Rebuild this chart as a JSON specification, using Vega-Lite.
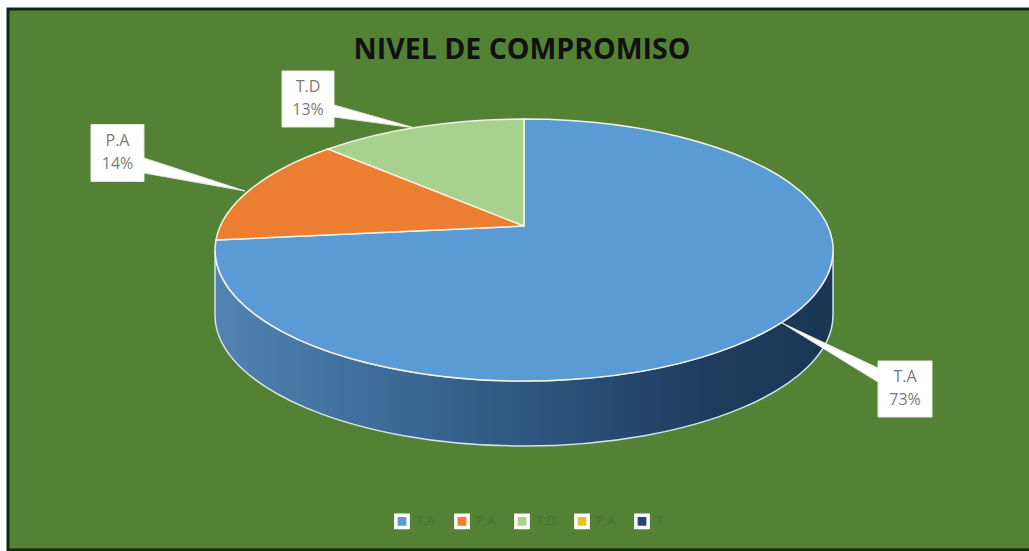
{
"$schema":"https://vega.github.io/schema/vega-lite/v6.json",
"width":1024,"height":541,
"autosize":"none",
"padding":{"left":8,"top":9,"right":0,"bottom":1},
"background":"#ffffff",
"view":{"fill":"#548235","stroke":"#0c2a14","strokeWidth":3},
"title":{"text":"NIVEL DE COMPROMISO","anchor":"middle","frame":"group","offset":-55,"dx":2,"font":"Open Sans","fontSize":28.5,"fontWeight":"bold","color":"#111111"},
"data":{"values":[
{"categoria":"T.A","porcentaje":73,"etiqueta":"73%"},
{"categoria":"P.A","porcentaje":14,"etiqueta":"14%"},
{"categoria":"T.D","porcentaje":13,"etiqueta":"13%"}
]},
"resolve":{"scale":{"shape":"independent"}},
"layer":[
{"data":{"values":[{"elemento":"lateral"}]},
 "mark":{"type":"point","filled":true,"opacity":1,"size":40000,"strokeWidth":1.5,"stroke":"#cfe3ee",
  "fill":{"gradient":"linear","x1":0,"y1":0,"x2":1,"y2":0,"stops":[{"offset":0,"color":"#5283b3"},{"offset":0.45,"color":"#315b87"},{"offset":0.8,"color":"#1f3c5e"},{"offset":1,"color":"#1c3553"}]}},
 "encoding":{"shape":{"value":"M-3.05,-0.295 A3.09,1.31 0 0 0 3.13,-0.295 L3.13,0.355 A3.09,1.31 0 0 1 -3.05,0.355 Z"}}},
{"mark":{"type":"point","filled":true,"opacity":1,"size":40000,"stroke":"#f3f1e4","strokeWidth":1.5},
 "encoding":{
  "color":{"field":"categoria","type":"nominal","scale":{"domain":["T.A","P.A","T.D","P.A ","T"],"range":["#5b9bd5","#ed7d31","#a9d18e","#e8c21e","#264478"]},
   "legend":{"title":null,"orient":"none","legendX":386,"legendY":504,"direction":"horizontal","columns":5,"gridAlign":"all","columnPadding":11,"symbolType":"square","symbolSize":150,"symbolStrokeColor":"#ffffff","symbolStrokeWidth":3.5,"symbolOpacity":1,"labelColor":"#4a6e3a","labelFont":"Open Sans","labelFontSize":13,"labelOffset":6}},
  "shape":{"field":"categoria","type":"nominal","legend":null,"scale":{"domain":["T.A","P.A","T.D"],"range":[
   "M0.04,-0.535 L0.04,-1.605 A3.09,1.31 0 1 1 -3.04,-0.395 Z",
   "M0.04,-0.535 L-3.04,-0.395 A3.09,1.31 0 0 1 -1.92,-1.305 Z",
   "M0.04,-0.535 L-1.92,-1.305 A3.09,1.31 0 0 1 0.04,-1.605 Z"]}}
 }},
{"mark":{"type":"point","filled":true,"opacity":1,"size":40000,"fill":"#ffffff","stroke":"#e4e8df","strokeWidth":1},
 "encoding":{
  "x":{"field":"porcentaje","type":"quantitative","axis":null,"scale":{"domain":[13,14,73],"range":[300,109.5,897],"nice":false,"zero":false}},
  "y":{"field":"porcentaje","type":"quantitative","axis":null,"scale":{"domain":[13,14,73],"range":[90,144,380],"nice":false,"zero":false}},
  "shape":{"field":"categoria","type":"nominal","legend":null,"scale":{"domain":["T.A","P.A","T.D"],"range":[
   "M-0.27,-0.28 L0.27,-0.28 L0.27,0.28 L-0.27,0.28 L-0.27,-0.07 L-1.23,-0.66 L-0.27,-0.21 Z",
   "M-0.265,-0.285 L0.265,-0.285 L0.265,0.05 L1.275,0.38 L0.265,0.2 L0.265,0.285 L-0.265,0.285 Z",
   "M-0.26,-0.28 L0.26,-0.28 L0.26,0.06 L1.07,0.29 L0.26,0.18 L0.26,0.28 L-0.26,0.28 Z"]}}
 }},
{"mark":{"type":"text","font":"Open Sans","fontSize":16,"color":"#7a7a7a","dy":-12,"align":"center","baseline":"middle"},
 "encoding":{
  "x":{"field":"porcentaje","type":"quantitative"},
  "y":{"field":"porcentaje","type":"quantitative"},
  "text":{"field":"categoria","type":"nominal"}}},
{"mark":{"type":"text","font":"Open Sans","fontSize":16,"color":"#7a7a7a","dy":11,"align":"center","baseline":"middle"},
 "encoding":{
  "x":{"field":"porcentaje","type":"quantitative"},
  "y":{"field":"porcentaje","type":"quantitative"},
  "text":{"field":"etiqueta","type":"nominal"}}}
]
}
